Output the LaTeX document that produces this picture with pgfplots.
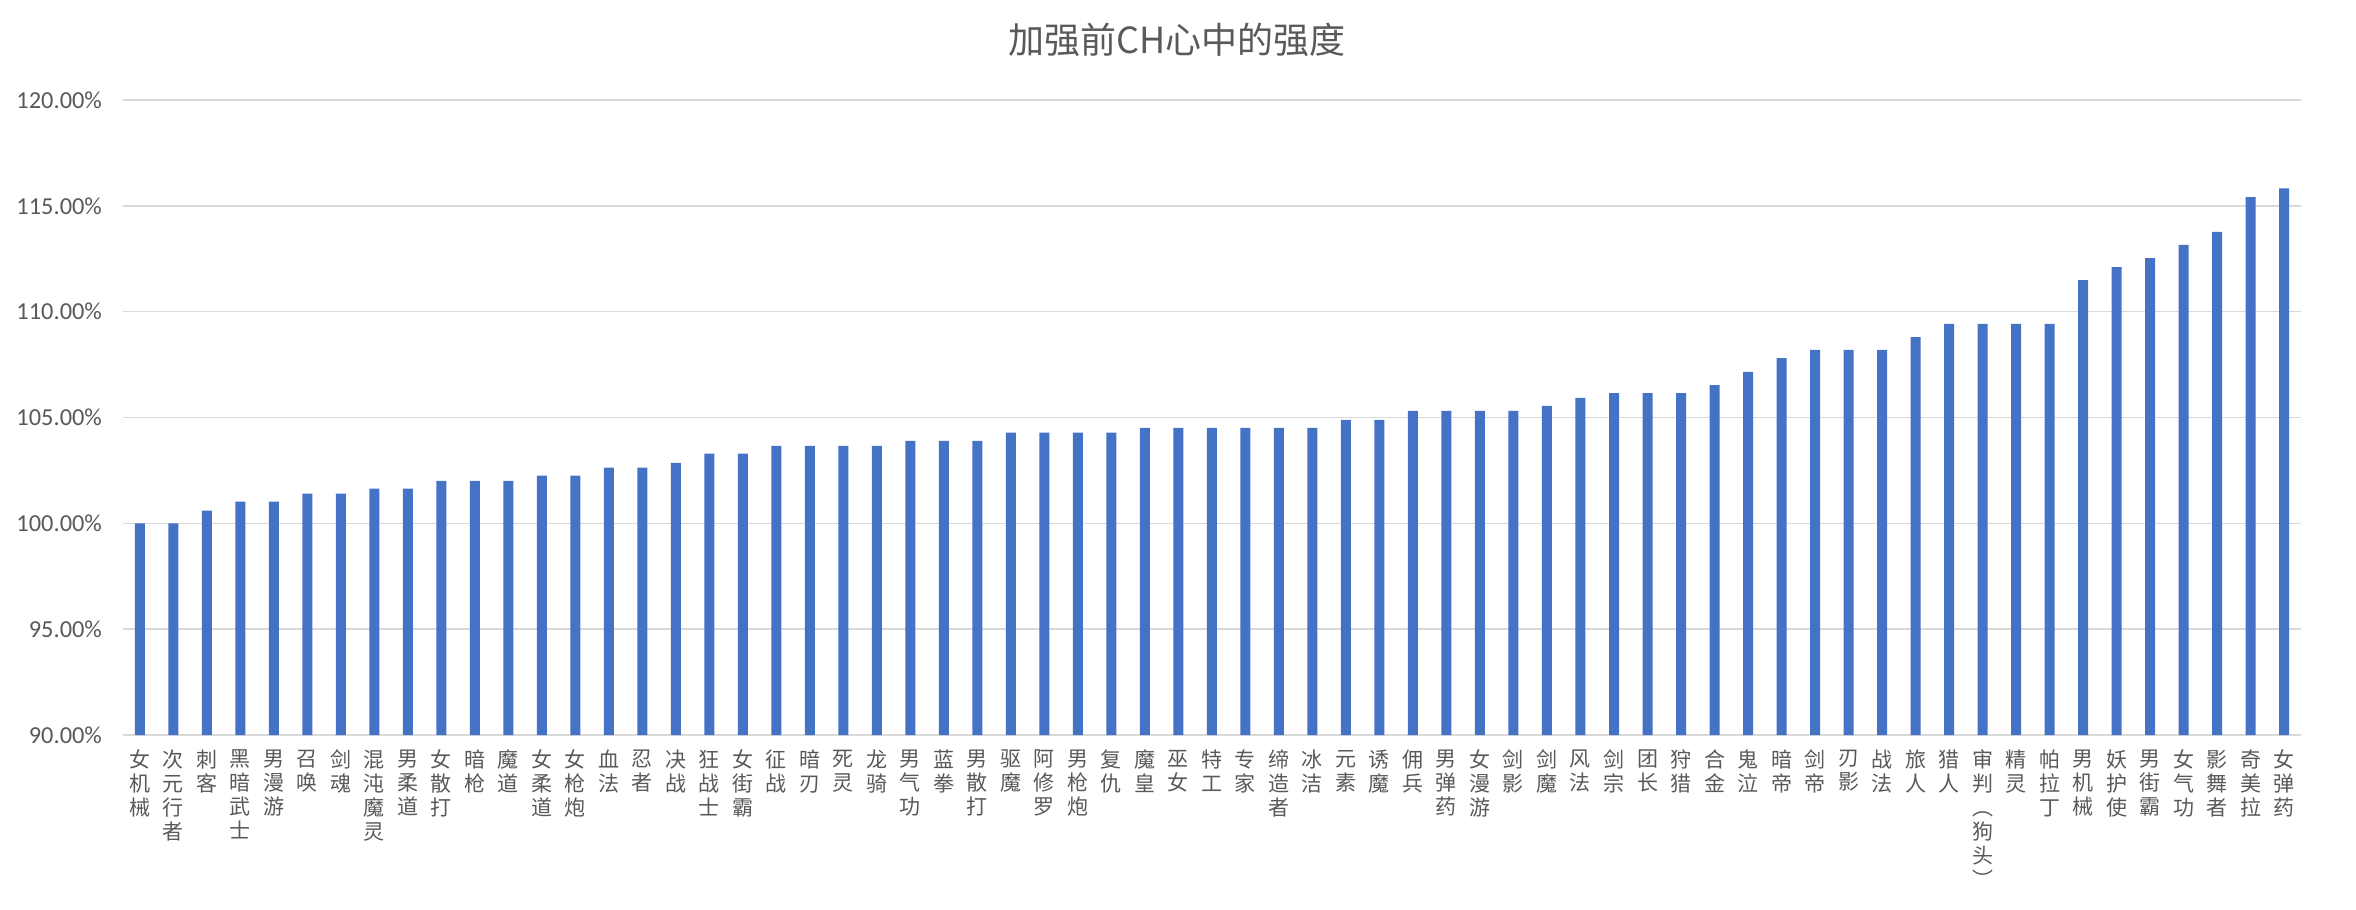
\documentclass[border=0pt]{standalone}
\usepackage{fontspec}
\setmainfont{Carlito}
\newfontfamily\cjk{Noto Sans CJK SC}
\usepackage{pgfplots}
\pgfplotsset{compat=1.18}
\definecolor{barblue}{HTML}{4472C4}
\definecolor{gridgray}{HTML}{D9D9D9}
\definecolor{txtgray}{HTML}{595959}

\begin{document}
\begin{tikzpicture}
\path[use as bounding box] (-61.5pt,-87.5pt) rectangle (1116.5pt,367.5pt);
\begin{axis}[
    at={(0pt,0pt)}, anchor=south west,
    scale only axis,
    width=1089pt, height=317.5pt,
    ybar, bar width=5pt,
    xmin=-0.5, xmax=64.5,
    ymin=90, ymax=120,
    ytick={90,95,...,120},
    xtick={0,...,64},
    axis x line*=bottom,
    axis y line*=left,
    x axis line style={gridgray, line width=0.8pt, -},
    y axis line style={draw=none},
    ymajorgrids, grid style={gridgray, line width=0.8pt},
    major tick length=0pt,
    /pgf/number format/assume math mode=true,
    yticklabel={\pgfmathprintnumber[fixed,fixed zerofill,precision=2]{\tick}\%},
    yticklabel style={font=\fontsize{12.2}{14}\selectfont, text=txtgray, xshift=-7pt},
    xticklabel style={font=\cjk\fontsize{10.5}{12}\selectfont, text=txtgray, align=center, anchor=north, yshift=-4pt},
    xticklabels={
    女\\机\\械, 次\\元\\行\\者, 刺\\客, 黑\\暗\\武\\士, 男\\漫\\游, 召\\唤, 剑\\魂, 混\\沌\\魔\\灵, 男\\柔\\道, 女\\散\\打,
    暗\\枪, 魔\\道, 女\\柔\\道, 女\\枪\\炮, 血\\法, 忍\\者, 决\\战, 狂\\战\\士, 女\\街\\霸, 征\\战,
    暗\\刃, 死\\灵, 龙\\骑, 男\\气\\功, 蓝\\拳, 男\\散\\打, 驱\\魔, 阿\\修\\罗, 男\\枪\\炮, 复\\仇,
    魔\\皇, 巫\\女, 特\\工, 专\\家, 缔\\造\\者, 冰\\洁, 元\\素, 诱\\魔, 佣\\兵, 男\\弹\\药,
    女\\漫\\游, 剑\\影, 剑\\魔, 风\\法, 剑\\宗, 团\\长, 狩\\猎, 合\\金, 鬼\\泣, 暗\\帝,
    剑\\帝, 刃\\影, 战\\法, 旅\\人, 猎\\人, 审\\判\\︵\\狗\\头\\︶, 精\\灵, 帕\\拉\\丁, 男\\机\\械, 妖\\护\\使,
    男\\街\\霸, 女\\气\\功, 影\\舞\\者, 奇\\美\\拉, 女\\弹\\药},
    clip=true,
]
\addplot[fill=barblue, draw=none] coordinates {
(0,100.00) (1,100.00) (2,100.60) (3,101.02) (4,101.02) (5,101.40) (6,101.40) (7,101.64) (8,101.64) (9,102.01)
(10,102.01) (11,102.01) (12,102.25) (13,102.25) (14,102.63) (15,102.63) (16,102.86) (17,103.29) (18,103.29) (19,103.66)
(20,103.66) (21,103.66) (22,103.66) (23,103.90) (24,103.90) (25,103.90) (26,104.28) (27,104.28) (28,104.28) (29,104.28)
(30,104.51) (31,104.51) (32,104.51) (33,104.51) (34,104.51) (35,104.51) (36,104.89) (37,104.89) (38,105.31) (39,105.31)
(40,105.31) (41,105.31) (42,105.55) (43,105.93) (44,106.15) (45,106.15) (46,106.15) (47,106.53) (48,107.15) (49,107.81)
(50,108.19) (51,108.19) (52,108.19) (53,108.80) (54,109.42) (55,109.42) (56,109.42) (57,109.42) (58,111.49) (59,112.10)
(60,112.53) (61,113.15) (62,113.77) (63,115.41) (64,115.83)
};
\end{axis}
\node[font=\cjk\fontsize{18}{21}\selectfont, text=txtgray] at (527pt,347.5pt) {加强前CH心中的强度};
\end{tikzpicture}
\end{document}
